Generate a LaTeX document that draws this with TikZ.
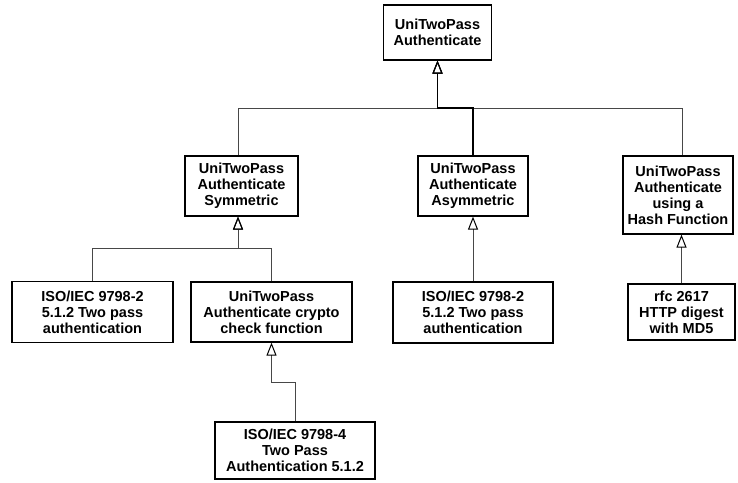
\documentclass[tikz,border=0pt]{standalone}
\usepackage{fontspec}
\setmainfont{Liberation Sans}
\usetikzlibrary{arrows.meta}
\begin{document}
\begin{tikzpicture}[x=1pt,y=-1pt,
  cls/.style={draw=black, line width=1.2pt, fill=white, align=center,
    inner sep=0pt, font=\bfseries\fontsize{14.5}{16}\selectfont},
  gen/.style={draw=black!72, line width=1pt,
    -{Triangle[open, length=13pt, width=10pt, line width=1pt, color=black]}},
  genmain/.style={gen, draw=black, line width=1.2pt}
]
\useasboundingbox[fill=white] (0,0) rectangle (738,482);

% classes
\node[cls, minimum width=108pt, minimum height=55pt] (top) at (437.5,32.5) {UniTwoPass\\Authenticate};
\node[cls, minimum width=113pt, minimum height=60pt] (sym) at (241.5,186) {UniTwoPass\\Authenticate\\Symmetric};
\node[cls, minimum width=110pt, minimum height=60pt] (asym) at (473,186) {UniTwoPass\\Authenticate\\Asymmetric};
\node[cls, minimum width=110pt, minimum height=78pt] (hash) at (678,195) {UniTwoPass\\Authenticate\\using a\\Hash Function};
\node[cls, minimum width=161pt, minimum height=61pt] (isoa) at (92.5,312) {ISO/IEC 9798-2\\5.1.2 Two pass\\authentication};
\node[cls, minimum width=161pt, minimum height=60pt] (crypto) at (271.5,312) {UniTwoPass\\Authenticate crypto\\check function};
\node[cls, minimum width=160pt, minimum height=61pt] (isob) at (473,312.5) {ISO/IEC 9798-2\\5.1.2 Two pass\\authentication};
\node[cls, minimum width=107pt, minimum height=56pt] (rfc) at (681.5,312) {rfc 2617\\HTTP digest\\with MD5};
\node[cls, minimum width=160pt, minimum height=57pt] (isoc) at (295,450.5) {ISO/IEC 9798-4\\Two Pass\\Authentication 5.1.2};

% bend levels of the generalisation trees
\coordinate (jt) at (0,108);
\coordinate (js) at (0,248);
\coordinate (jc) at (0,382);

% generalisations
\draw[gen] ([xshift=-3.5pt]sym.north) |- (top.south |- jt) -- (top.south);
\draw[gen] ([xshift=4.5pt]hash.north) |- (top.south |- jt) -- (top.south);
\draw[genmain] (asym.north) |- (top.south |- jt) -- (top.south);

\draw[gen] (isoa.north) |- ([xshift=-3.5pt]sym.south |- js) -- ([xshift=-3.5pt]sym.south);
\draw[gen] (crypto.north) |- ([xshift=-3.5pt]sym.south |- js) -- ([xshift=-3.5pt]sym.south);
\draw[gen] (isob.north) -- (asym.south);
\draw[gen] (rfc.north) -- (rfc.north |- hash.south);
\draw[gen] (isoc.north) |- (crypto.south |- jc) -- (crypto.south);
\end{tikzpicture}
\end{document}
